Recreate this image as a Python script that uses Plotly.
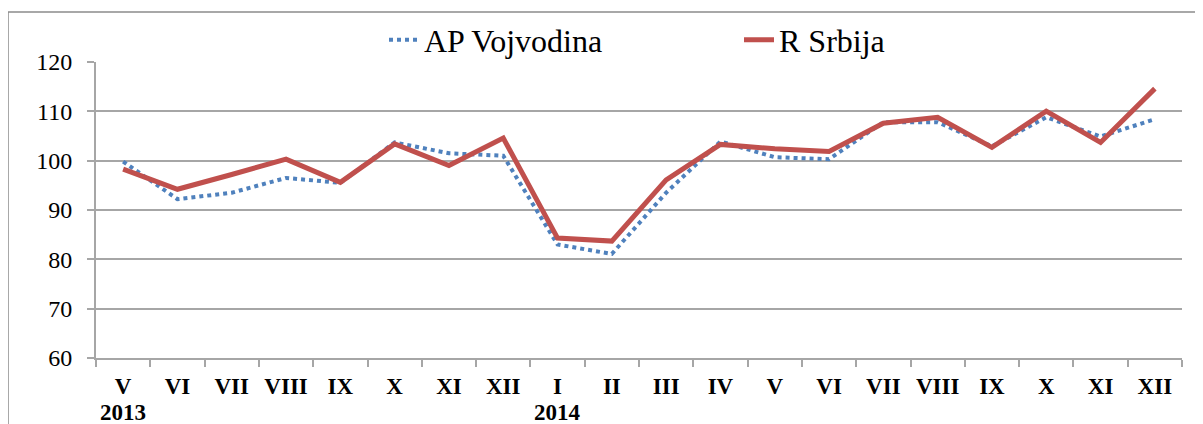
import plotly.graph_objects as go

months = ["V", "VI", "VII", "VIII", "IX", "X", "XI", "XII", "I", "II",
          "III", "IV", "V", "VI", "VII", "VIII", "IX", "X", "XI", "XII"]
vojvodina = [99.8, 92.2, 93.5, 96.5, 95.5, 103.7, 101.5, 101.0, 83.0, 81.1,
             93.5, 103.9, 100.7, 100.3, 107.8, 107.8, 102.9, 108.8, 104.9, 108.4]
srbija = [98.3, 94.2, 97.2, 100.3, 95.6, 103.4, 99.0, 104.6, 84.3, 83.7,
          96.1, 103.3, 102.4, 101.85, 107.6, 108.8, 102.7, 110.05, 103.7, 114.6]
year_labels = {0: "2013", 8: "2014"}
y_ticks = [60, 70, 80, 90, 100, 110, 120]

x = list(range(len(months)))
FONT = "Liberation Serif"
GRID = "#a6a6a6"

fig = go.Figure()
fig.add_trace(go.Scatter(x=x, y=vojvodina, mode="lines", name="AP Vojvodina",
                         line=dict(color="#4f81bd", width=4, dash="dot")))
fig.add_trace(go.Scatter(x=x, y=srbija, mode="lines", name="R Srbija",
                         line=dict(color="#c0504d", width=5)))

for i, t in year_labels.items():
    fig.add_annotation(x=i, y=0, xref="x", yref="paper", yshift=-54,
                       yanchor="middle", text="<b>" + t + "</b>", showarrow=False,
                       font=dict(family=FONT, size=23, color="black"))

# outer chart frame (page has an 8px body margin, so plot area is at 96..1182 / 62..358)
fig.add_shape(type="rect", xref="paper", yref="paper",
              x0=(8 - 96) / 1086, x1=(1215 - 96) / 1086,
              y0=(358 - 440) / 296, y1=(358 - 12) / 296,
              line=dict(color="#8c8c8c", width=1.5), fillcolor="rgba(0,0,0,0)")

fig.update_layout(
    width=1195, height=416,
    margin=dict(l=88, r=21, t=54, b=66, autoexpand=False),
    paper_bgcolor="white", plot_bgcolor="white",
    font=dict(family=FONT, color="black"),
    showlegend=True,
    legend=dict(orientation="h", x=(384 - 96) / 1086, xanchor="left",
                y=(358 - 40) / 296, yanchor="middle",
                font=dict(family=FONT, size=32, color="black"),
                entrywidth=310, entrywidthmode="pixels", bgcolor="rgba(0,0,0,0)"),
    xaxis=dict(range=[-0.5, 19.5], tickmode="array", tickvals=x,
               ticktext=["<b>" + m + "</b>" for m in months],
               ticks="", showgrid=False, zeroline=False,
               showline=True, linecolor=GRID, linewidth=2,
               ticklabelstandoff=6,
               tickfont=dict(family=FONT, size=23, color="black"),
               minor=dict(tickmode="linear", tick0=-0.5, dtick=1, ticks="outside",
                          ticklen=7, tickcolor=GRID, tickwidth=2, showgrid=False)),
    yaxis=dict(range=[60, 120], tickmode="array", tickvals=y_ticks,
               showgrid=True, gridcolor=GRID, gridwidth=2, zeroline=False,
               showline=True, linecolor=GRID, linewidth=2,
               ticks="outside", ticklen=7, tickcolor=GRID, tickwidth=2,
               ticklabelstandoff=10,
               tickfont=dict(family=FONT, size=24, color="black")),
)

fig.write_html("out.html")
